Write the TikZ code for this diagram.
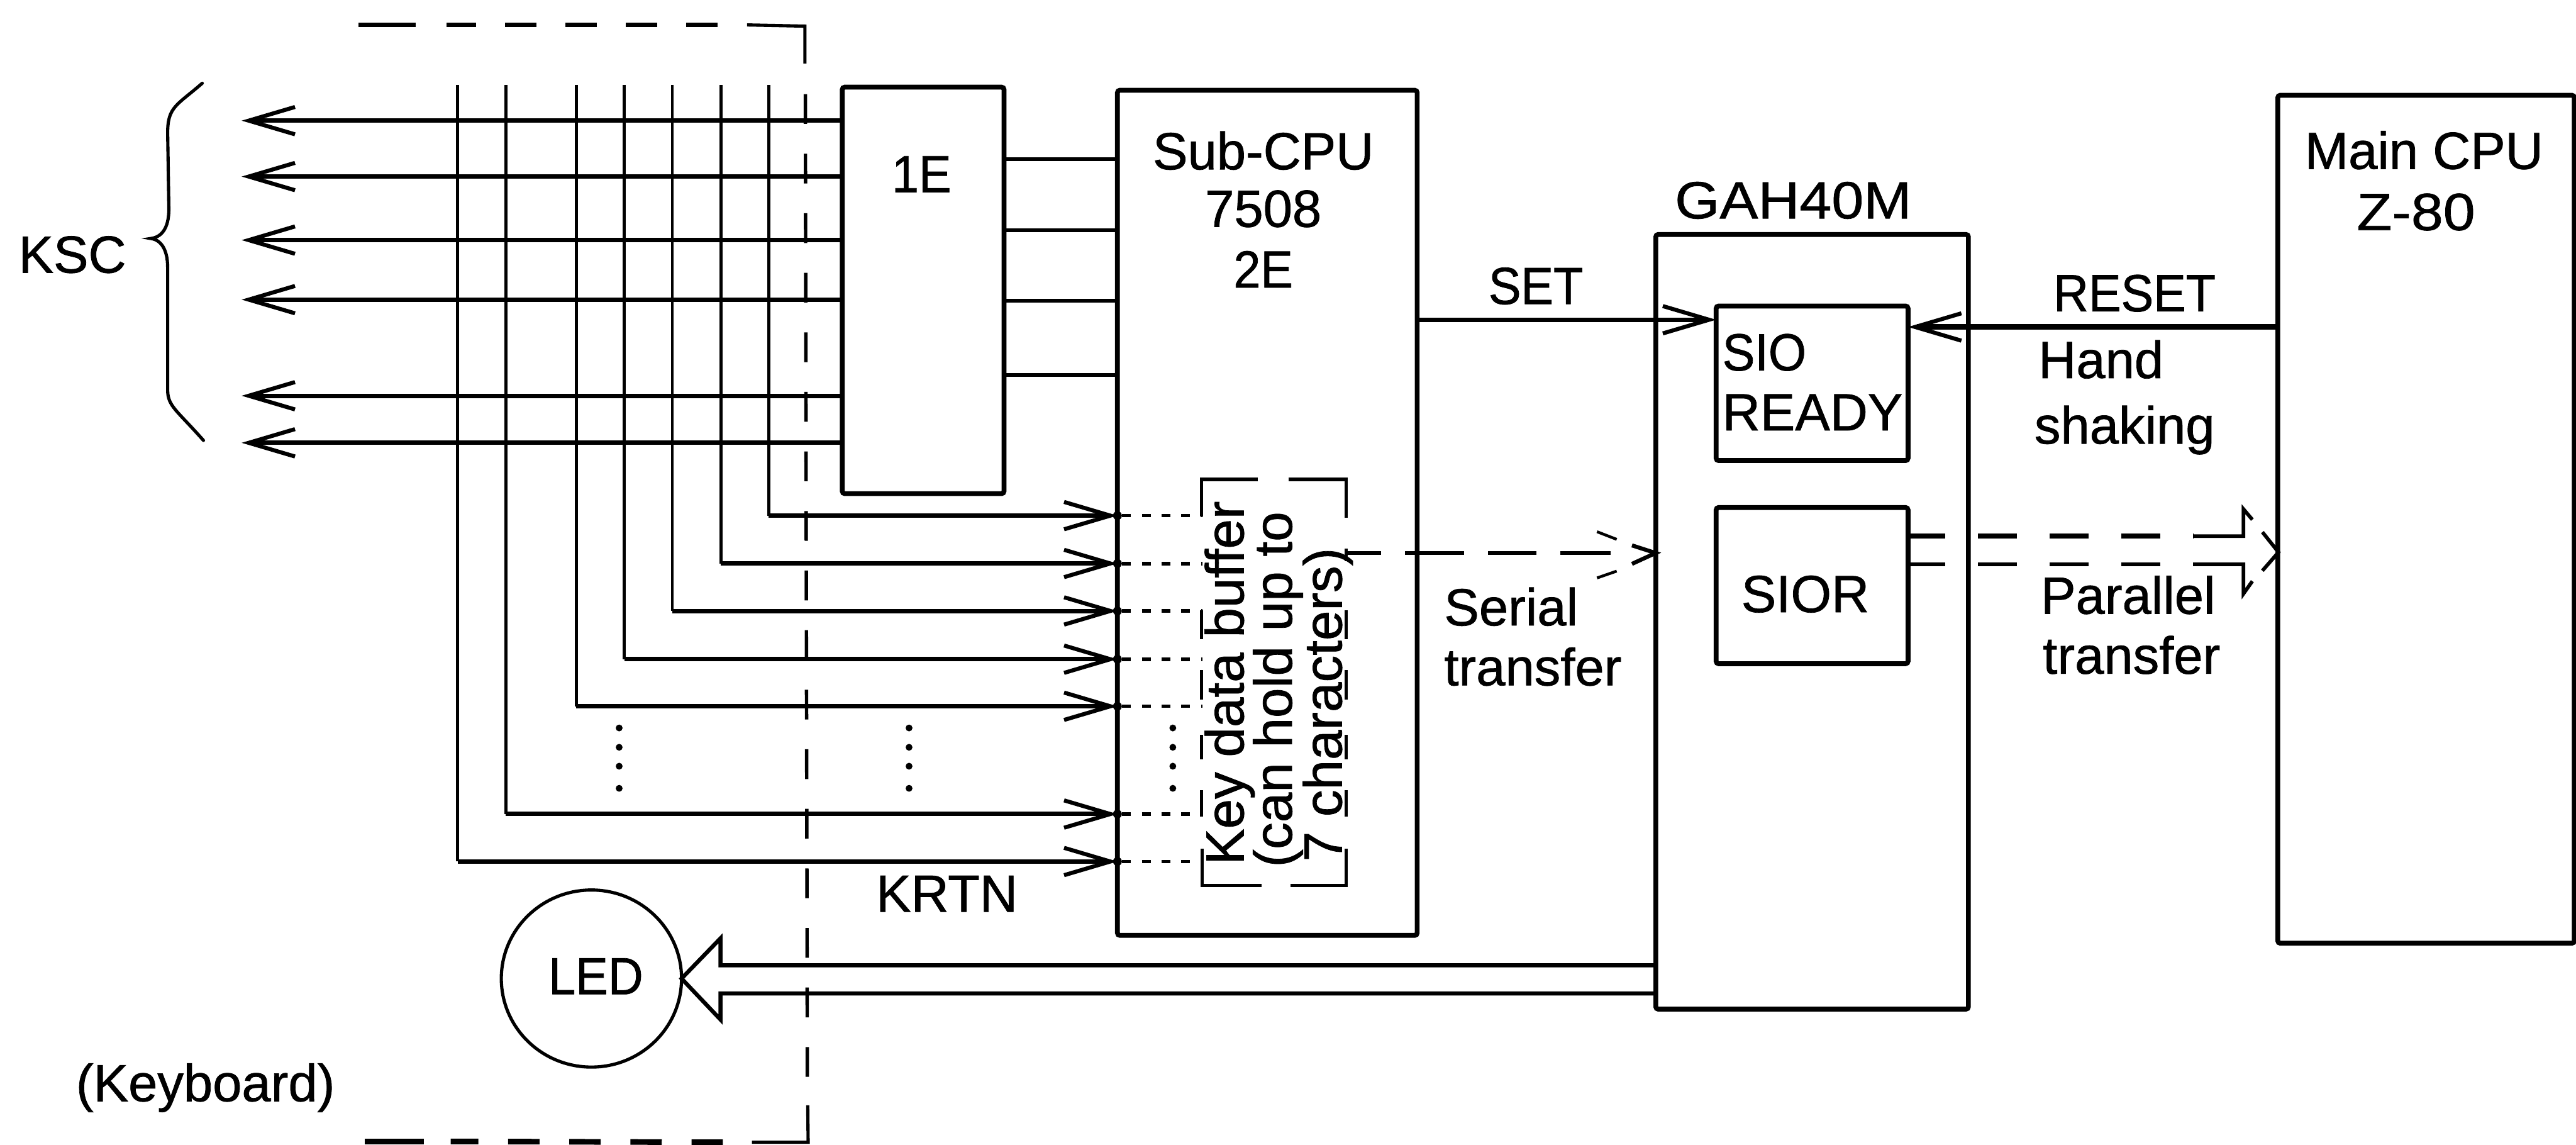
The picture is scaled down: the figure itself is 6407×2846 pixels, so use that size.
\documentclass[tikz,border=0pt]{standalone}
\usepackage{fontspec}
\setmainfont[FakeBold=0.9]{Liberation Sans}
\newfontfamily\capsfont[FakeStretch=0.93,FakeBold=0.9]{Liberation Sans}
\newfontfamily\widefont[FakeStretch=1.1,FakeBold=0.9]{Liberation Sans}
\usetikzlibrary{arrows.meta,shapes.geometric}
\tikzset{
  x=0.01cm,y=-0.01cm,
  boxn/.style={draw,line width=.12cm,outer sep=0pt,inner sep=0pt,rounded corners=.06cm},
  lbl/.style={anchor=base,inner sep=0pt,outer sep=0pt,font=\fontsize{37pt}{37pt}\selectfont},
  capl/.style={anchor=base,inner sep=0pt,outer sep=0pt,font=\capsfont\fontsize{37pt}{37pt}\selectfont},
  widel/.style={anchor=base,inner sep=0pt,outer sep=0pt,font=\widefont\fontsize{37pt}{37pt}\selectfont},
  lblw/.style={anchor=base west,inner sep=0pt,outer sep=0pt,font=\fontsize{37pt}{37pt}\selectfont},
  capw/.style={anchor=base west,inner sep=0pt,outer sep=0pt,font=\capsfont\fontsize{37pt}{37pt}\selectfont},
  vtxt/.style={anchor=base,rotate=90,inner sep=0pt,outer sep=0pt,font=\fontsize{38pt}{38pt}\selectfont},
  sig/.style={line width=.11cm},
  grid/.style={line width=.075cm},
  brk/.style={line width=.08cm},
  opn/.style={-{Straight Barb[length=1.15cm,width=.68cm,line width=.1cm]}},
  dotl/.style={line width=.09cm,dash pattern=on .22cm off .27cm},
  dotpt/.style={circle,fill=black,inner sep=0pt,minimum size=.22cm},
  dashv/.style={line width=.085cm,dash pattern=on .74cm off .74cm},
  dashh/.style={line width=.12cm,dash pattern=on .78cm off .72cm},
}
\begin{document}
\begin{tikzpicture}
\useasboundingbox (0,0) rectangle (6407,2846);
% boxes
\node[boxn,minimum width=4.02cm,minimum height=10.1cm] (e1) at (2296,722) {};
\node[boxn,minimum width=7.45cm,minimum height=21cm] (sub) at (3152,1275) {};
\node[boxn,minimum width=7.77cm,minimum height=19.25cm] (gah) at (4507,1546) {};
\node[boxn,minimum width=4.77cm,minimum height=3.84cm] (sio) at (4507,953) {};
\node[boxn,minimum width=4.77cm,minimum height=3.88cm] (sior) at (4507,1456) {};
\node[boxn,minimum width=7.37cm,minimum height=21.07cm] (cpu) at (6034,1291) {};
\node[draw,ellipse,line width=.08cm,minimum width=4.48cm,minimum height=4.4cm,inner sep=0pt,outer sep=0pt] (led) at (1471,2433) {};
% keyboard dashed frame
\coordinate (fa) at (1858,62);
\coordinate (fb) at (2002,65);
\coordinate (fc) at (2002,158);
\coordinate (fd) at (2003,234);
\coordinate (fe) at (2008,2700);
\coordinate (ff) at (1034,62);
\coordinate (fg) at (891,62);
\coordinate (ga) at (1870,2840);
\coordinate (gb) at (2010,2840);
\coordinate (gc) at (2009,2748);
\coordinate (gd) at (1054,2838);
\coordinate (ge) at (907,2838);
\draw[line width=.08cm] (fa) -- (fb) -- (fc);
\draw[dashv] (fd) -- (fe);
\draw[dashh] (1784,62) -- (1110,62);
\draw[line width=.12cm] (ff) -- (fg);
\draw[line width=.08cm] (ga) -- (gb) -- (gc);
\draw[line width=.14cm,dash pattern=on .78cm off .74cm] (1798,2840) -- (1121,2838);
\draw[line width=.14cm] (gd) -- (ge);
% scan lines with arrows
\foreach \i/\yy in {1/300,2/439,3/597,4/745,5/984,6/1101}{
  \coordinate (k\i) at (601,\yy);
  \draw[sig,opn] (e1.west |- k\i) -- (k\i);
}
% links from 1E to Sub-CPU
\foreach \yy in {396,572,748,932}{
  \draw[line width=.09cm] (e1.east |- 0,\yy) -- (sub.west |- 0,\yy);
}
% return lines
\foreach \i/\xx/\yy in {1/1912/1282,2/1793/1401,3/1672/1519,4/1553/1639,5/1433/1756,6/1258/2024,7/1138/2142}{
  \coordinate (t\i) at (\xx,211);
  \coordinate (c\i) at (\xx,\yy);
  \draw[grid] (t\i) -- (c\i);
  \draw[sig,opn] (c\i) -- (sub.west |- c\i);
  \node[dotpt] (d\i) at (sub.west |- c\i) {};
  \coordinate (b\i) at (2990,\yy);
  \draw[dotl] (d\i) -- (b\i);
}
% vertical dots
\foreach \xx in {1540,2261,2917}{
  \foreach \yy in {1810,1858,1905,1960}{
    \fill (\xx,\yy) circle (.085cm);
  }
}
% buffer bracket
\draw[brk] (3129,1192) -- (2988,1192) -- (2988,1284);
\draw[brk] (3205,1192) -- (3348,1192) -- (3348,1288);
\draw[brk] (3137,2202) -- (2990,2202) -- (2990,2110);
\draw[brk] (3210,2202) -- (3348,2202) -- (3348,2110);
\foreach \xx in {2988,3348}{
  \foreach \aa/\bb in {1517/1590,1666/1739,1827/1888,1965/2030}{
    \draw[brk] (\xx,\aa) -- (\xx,\bb);
  }
}
\draw[brk] (3348,1364) -- (3348,1395);
% serial transfer dashed
\coordinate (s0) at (3348,1375);
\draw[line width=.1cm,dash pattern=on .87cm off .6cm on 1.46cm off .6cm on 1.2cm off .6cm on 1.25cm off 5cm] (s0) -- (gah.west |- s0);
\draw[line width=.07cm] (3972,1322) -- (4021,1341);
\draw[line width=.07cm] (3972,1437) -- (4021,1420);
\draw[line width=.1cm] (4059,1356) -- (4118,1375) -- (4059,1402);
% SET, RESET
\coordinate (ss) at (0,795);
\coordinate (rr) at (0,813);
\draw[sig,opn] (sub.east |- ss) -- (sio.west |- ss);
\draw[line width=.14cm,opn] (cpu.west |- rr) -- (sio.east |- rr);
% parallel transfer
\coordinate (pa) at (0,1333);
\coordinate (pb) at (0,1403);
\coordinate (pc) at (5580,1333);
\coordinate (pd) at (5580,1403);
\coordinate (pe) at (5580,1266);
\coordinate (pf) at (5602,1292);
\coordinate (pg) at (5580,1476);
\coordinate (ph) at (5602,1445);
\coordinate (pt) at (5667,1373);
\coordinate (pu) at (5627,1323);
\coordinate (pv) at (5627,1419);
\draw[line width=.12cm,dash pattern=on .93cm off .81cm on .97cm off .81cm on .97cm off .81cm on .97cm off .81cm] (sior.east |- pa) -- (5456,1333);
\draw[line width=.09cm,dash pattern=on .93cm off .81cm on .97cm off .81cm on .97cm off .81cm on .97cm off .81cm] (sior.east |- pb) -- (5456,1403);
\draw[line width=.09cm] (5456,1333) -- (pc) -- (pe) -- (pf);
\draw[line width=.09cm] (5456,1403) -- (pd) -- (pg) -- (ph);
\draw[line width=.09cm] (pu) -- (pt) -- (pv);
% LED hollow arrow
\coordinate (la) at (1792,2400);
\coordinate (lb) at (1792,2333);
\coordinate (lc) at (1792,2535);
\coordinate (ld) at (1792,2470);
\draw[line width=.1cm,line join=miter] (gah.west |- la) -- (la) -- (lb) -- (led.east) -- (lc) -- (ld) -- (gah.west |- ld);
% brace
\coordinate (ba) at (503,207);
\coordinate (bm) at (375,593);
\coordinate (bz) at (506,1095);
\draw[line width=.08cm,line cap=round] (ba) .. controls (440,262) and (417,265) .. (417,330) -- (420,520) .. controls (420,570) and (400,590) .. (bm) .. controls (400,596) and (417,620) .. (417,665) -- (417,970) .. controls (417,1010) and (440,1020) .. (bz);
% labels
\node[lbl] (tksc) at (180,678) {KSC};
\node[capl] (te1) at (2292,478) {1E};
\node[lbl] (tsub) at (3142,421) {Sub-CPU};
\node[lbl] (t7508) at (3142,564) {7508};
\node[capl] (t2e) at (3142,715) {2E};
\node[widel] (tgah) at (4460,543) {GAH40M};
\node[capl] (tset) at (3820,756) {SET};
\node[capl] (treset) at (5309,774) {RESET};
\node[lblw] (thand) at (5070,940) {Hand};
\node[lblw] (tshak) at (5060,1103) {shaking};
\node[capw] (tsio) at (4284,921) {SIO};
\node[lblw] (tready) at (4284,1070) {READY};
\node[lbl] (tsior) at (4490,1522) {SIOR};
\node[lblw] (tpar) at (5076,1526) {Parallel};
\node[lblw] (ttr2) at (5081,1675) {transfer};
\node[lbl] (tmain) at (6029,420) {Main CPU};
\node[widel] (tz) at (6009,572) {Z-80};
\node[lblw] (tser) at (3592,1555) {Serial};
\node[lblw] (ttr1) at (3592,1704) {transfer};
\node[lbl] (tkrtn) at (2355,2267) {KRTN};
\node[capl] (tled) at (1482,2472) {LED};
\node[lbl] (tkb) at (511,2738) {(Keyboard)};
\node[vtxt] (v1) at (3093,1698) {Key data buffer};
\node[vtxt] (v2) at (3213,1714) {(can hold up to};
\node[vtxt] (v3) at (3337,1752) {7 characters)};
\end{tikzpicture}
\end{document}
